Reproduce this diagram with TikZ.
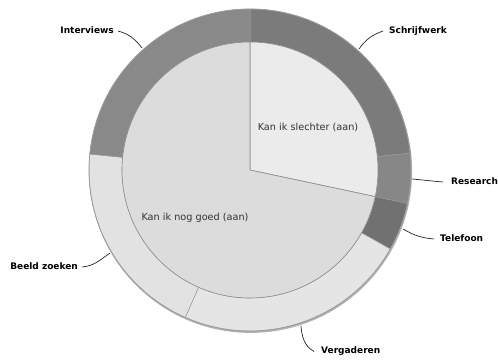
\documentclass[tikz,border=0pt]{standalone}
\usepackage{fontspec}
\setmainfont{DejaVu Sans}
\definecolor{ringA}{HTML}{7B7B7B}
\definecolor{ringB}{HTML}{878787}
\definecolor{ringC}{HTML}{717171}
\definecolor{ringD}{HTML}{E5E5E5}
\definecolor{ringE}{HTML}{E2E2E2}
\definecolor{ringF}{HTML}{898989}
\definecolor{pieA}{HTML}{EBEBEB}
\definecolor{pieB}{HTML}{DCDCDC}
\definecolor{edgegray}{HTML}{9C9C9C}
% one piece of the outer ring: start angle, end angle, fill colour
\newcommand\donutpart[3]{%
  \filldraw[fill=#3, draw=edgegray, line width=0.5pt]
    ([shift={(#1:161)}]O) arc[start angle=#1, end angle=#2, radius=161]
    -- ([shift={(#2:128)}]O) arc[start angle=#2, end angle=#1, radius=128] -- cycle;}
% one slice of the inner pie
\newcommand\pieslice[3]{%
  \filldraw[fill=#3, draw=black!45, line width=0.6pt]
    (O) -- ([shift={(#1:128)}]O) arc[start angle=#1, end angle=#2, radius=128] -- cycle;}
\begin{document}
\begin{tikzpicture}[x=1pt,y=1pt,
  lbl/.style={font=\bfseries\fontsize{9}{10.5}\selectfont, inner sep=0pt,
              text height=6.8pt, text depth=2pt},
  inlbl/.style={font=\fontsize{9.7}{11}\selectfont, text=black!80, inner sep=0pt},
  leader/.style={draw=black!85, line width=0.7pt}]
\useasboundingbox (0,0) rectangle (498,360);
\fill[white] (0,0) rectangle (498,360);
\coordinate (O) at (250,190);

% soft rim under the ring
\fill[black!30] ([shift={(0.6,-1.4)}]O) circle (161.5);

% outer ring
\donutpart{6}{90}{ringA}
\donutpart{-12}{6}{ringB}
\donutpart{-29.4}{-12}{ringC}
\donutpart{-113.7}{-29.4}{ringD}
\donutpart{174.3}{246.3}{ringE}
\donutpart{90}{174.3}{ringF}
\draw[edgegray, line width=0.7pt] (O) circle (161);

% inner pie
\pieslice{-12}{90}{pieA}
\pieslice{90}{348}{pieB}

\node[inlbl] (slechter) at (308,233) {Kan ik slechter (aan)};
\node[inlbl] (goed) at (195,142) {Kan ik nog goed (aan)};

% labels
\node[lbl, anchor=east] (lInt) at (114,329) {Interviews};
\node[lbl, anchor=west] (lSch) at (389,329) {Schrijfwerk};
\node[lbl, anchor=west] (lRes) at (451,178) {Research};
\node[lbl, anchor=west] (lTel) at (440,121) {Telefoon};
\node[lbl, anchor=west] (lVer) at (321,8.5) {Vergaderen};
\node[lbl, anchor=east] (lBee) at (78,93) {Beeld zoeken};

% leader end points on the ring
\coordinate (aInt) at (142,312);
\coordinate (aSch) at (359,311);
\coordinate (aRes) at (412,181);
\coordinate (aTel) at (403,131);
\coordinate (aVer) at (301,34);
\coordinate (aBee) at (110,107);

\draw[leader] ([xshift=4pt]lInt.east) to[out=-15, in=128] (aInt);
\draw[leader] ([xshift=-6pt]lSch.west) to[out=200, in=55] (aSch);
\draw[leader] ([xshift=-8pt]lRes.west) to[out=175, in=-5] (aRes);
\draw[leader] ([xshift=-6pt]lTel.west) to[out=175, in=-30] (aTel);
\draw[leader] ([xshift=-7pt]lVer.west) to[out=150, in=-85] (aVer);
\draw[leader] ([xshift=4pt]lBee.east) to[out=5, in=-145] (aBee);
\end{tikzpicture}
\end{document}
